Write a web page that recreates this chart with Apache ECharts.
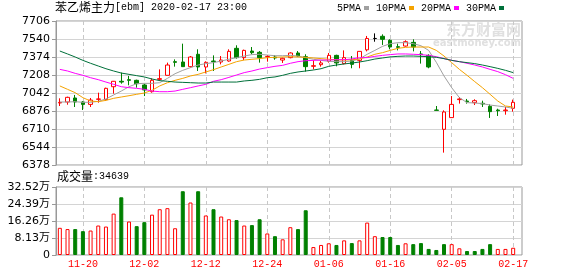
<!DOCTYPE html>
<html><head><meta charset="utf-8">
<script src="https://cdn.jsdelivr.net/npm/echarts@6/dist/echarts.min.js"></script>
<style>html,body{margin:0;padding:0;background:#fff}#c{width:578px;height:276px}</style>
</head><body><div id="c"></div>
<script>
// ---- data ----
const dates = ['11-15','11-18','11-19','11-20','11-21','11-22','11-25','11-26','11-27','11-28','11-29',
  '12-02','12-03','12-04','12-05','12-06','12-09','12-10','12-11','12-12','12-13','12-16','12-17','12-18','12-19','12-20','12-23','12-24','12-25','12-26','12-27','12-30','12-31',
  '01-02','01-03','01-06','01-07','01-08','01-09','01-10','01-13','01-14','01-15','01-16','01-17','01-20','01-21','01-22','01-23',
  '02-03','02-04','02-05','02-06','02-07','02-10','02-11','02-12','02-13','02-14','02-17'];
const opens  = [6950,6959,6996,6959,6937,6984,6981,7100,7150,7165,7159,7116,7054,7168,7205,7331,7328,7285,7399,7282,
  7337,7328,7337,7454,7368,7429,7417,7377,7374,7346,7368,7411,7377,7288,7303,7334,7389,7313,7343,7343,
  7440,7545,7565,7528,7469,7475,7509,7402,7389,6885,6707,6815,6981,6968,6953,6947,6919,6885,6879,6901];
const closes = [6955,7002,6959,6937,6977,6987,7085,7150,7143,7159,7128,7070,7159,7174,7300,7325,7285,7374,7282,7325,
  7331,7346,7426,7368,7435,7414,7368,7380,7365,7362,7411,7383,7285,7294,7319,7389,7319,7368,7306,7426,
  7545,7545,7537,7466,7463,7515,7466,7396,7282,6882,6867,6937,6987,6962,6971,6941,6870,6879,6885,6956];
const lows   = [6922,6934,6913,6885,6913,6953,6968,7036,7128,7113,7091,7014,7045,7153,7205,7285,7282,7276,7245,7223,
  7245,7306,7331,7359,7346,7399,7322,7331,7349,7319,7362,7374,7239,7260,7285,7322,7288,7306,7270,7270,
  7426,7515,7485,7445,7435,7469,7426,7313,7270,6882,6492,6815,6944,6944,6931,6913,6812,6830,6842,6870];
const highs  = [6993,7008,7024,6968,6996,7045,7091,7153,7230,7199,7165,7128,7177,7260,7322,7352,7497,7383,7445,7334,
  7389,7383,7445,7482,7442,7466,7429,7392,7392,7368,7417,7429,7399,7343,7337,7411,7395,7435,7383,7426,
  7568,7592,7583,7537,7497,7528,7537,7429,7399,6922,6882,7014,7005,6987,6984,6971,6937,6897,6913,6981];
const ma5  = [6959,6959,6962,6956,6956,6965,6987,7024,7060,7100,7128,7131,7131,7137,7177,7220,7251,7276,7300,7313,
  7322,7337,7353,7368,7383,7396,7399,7392,7386,7386,7389,7383,7368,7353,7343,7334,7331,7331,7337,7356,
  7399,7435,7472,7497,7506,7506,7497,7478,7435,7325,7199,7091,6999,6953,6950,6944,6931,6922,6913,6901];
const ma10 = [7107,7076,7045,6999,6968,6962,6974,6993,7005,7017,7030,7042,7067,7107,7137,7159,7177,7199,7214,7236,
  7257,7282,7306,7331,7346,7353,7359,7368,7371,7374,7377,7374,7371,7365,7359,7353,7349,7346,7349,7356,
  7374,7399,7414,7435,7454,7463,7466,7466,7466,7435,7383,7322,7260,7205,7147,7091,7030,6968,6922,6913];
const ma20 = [7260,7245,7223,7205,7183,7165,7143,7122,7100,7091,7085,7076,7060,7054,7054,7060,7076,7091,7107,7122,
  7150,7165,7186,7208,7230,7245,7263,7276,7288,7297,7316,7331,7340,7343,7346,7346,7349,7349,7356,7368,
  7368,7380,7389,7396,7402,7402,7399,7396,7389,7377,7359,7343,7331,7316,7300,7282,7260,7239,7211,7177];
const ma30 = [7429,7402,7374,7343,7316,7291,7266,7245,7226,7214,7202,7190,7171,7156,7150,7143,7140,7137,7134,7134,
  7143,7143,7143,7143,7153,7159,7168,7183,7190,7205,7223,7236,7245,7254,7266,7288,7300,7310,7318,7328,
  7340,7355,7365,7375,7380,7383,7383,7380,7377,7371,7359,7343,7331,7322,7313,7300,7285,7269,7251,7230];
const volumes = [130000,124000,124000,114000,117000,141000,136000,198000,276000,160000,138000,157000,193000,219000,224000,128000,305000,251000,305000,189000,
  219000,184000,171000,167000,141000,143000,171000,103000,90000,75000,133000,124000,214000,38000,48000,56000,48000,70000,57000,70000,
  155000,90000,86000,86000,48000,56000,52000,57000,29000,24000,52000,52000,32000,19000,19000,29000,52000,29000,29000,34639];
const volUp = [1,1,0,0,1,1,1,1,0,1,0,0,1,1,1,1,0,1,0,1,0,1,1,0,1,0,0,1,0,1,
  1,0,0,1,1,1,0,1,0,1,1,1,0,0,0,1,0,0,0,0,0,1,1,0,0,0,0,1,1,1];
const priceTicks = ['6378','6544','6710','6876','7042','7208','7374','7540','7706'];
const volTicks = ['0','8.13万','16.26万','24.39万','32.52万'];
const maNames = ['5PMA','10PMA','20PMA','30PMA'];
const titleMain = '苯乙烯主力';
const titleRest = '[ebm] 2020-02-17 23:00';
const volLabel = '成交量';
const volValue = ':34639';

// ---- styling ----
const RED = '#ff0000', GREEN = '#008000';
const maColors = ['#a0a0a0', '#f5a300', '#ff00ff', '#00703a'];
const GRID_C = '#d4d4d4', FRAME_C = '#999999';
const MONO = "'Liberation Mono','Noto Sans CJK SC',monospace";
const SANS = "'DejaVu Sans','Noto Sans CJK SC',sans-serif";
const isMark = (i) => i % 8 === 3;

const candleData = dates.map((d, i) => {
  const item = { value: [opens[i], closes[i], lows[i], highs[i]] };
  if (opens[i] === closes[i]) item.itemStyle = { color: '#000', borderColor: '#000' };
  return item;
});
const volData = volumes.map((v, i) => ({
  value: v,
  itemStyle: volUp[i] ? { color: '#fff', borderColor: RED, borderWidth: 1 }
                      : { color: GREEN, borderColor: GREEN, borderWidth: 1 }
}));
const maData = [ma5, ma10, ma20, ma30];

const hiddenVal = (g, min, max) => ({ gridIndex: g, type: 'value', min, max, show: false,
  axisLine: {show:false}, axisTick:{show:false}, axisLabel:{show:false}, splitLine:{show:false} });

const frameY = (g, n, labels) => ({
  gridIndex: g, type: 'value', min: 0, max: n, interval: 1,
  axisLine: { show: true, lineStyle: { color: FRAME_C } },
  axisTick: { show: true, length: 4, lineStyle: { color: FRAME_C } },
  axisLabel: { margin: 6, color: '#000', fontFamily: SANS, fontSize: 11, formatter: v => labels[v] },
  splitLine: { show: true, lineStyle: { color: GRID_C, width: 1 } }
});

const catX = (g, showLabels) => ({
  gridIndex: g, type: 'category', data: dates, boundaryGap: true,
  axisLine: { show: false }, axisTick: { show: false },
  axisLabel: showLabels ? { show: true, interval: (i) => isMark(i), color: RED, fontFamily: MONO, fontSize: 10, margin: 4 } : { show: false },
  splitLine: { show: true, interval: (i) => isMark(i), alignWithLabel: true, lineStyle: { color: '#c8c8c8', type: [4, 3], width: 1 } }
});

const option = {
  animation: false,
  backgroundColor: '#fff',
  title: {
    left: 55, top: 1, padding: 0,
    text: '{a|' + titleMain + '}{b|' + titleRest + '}',
    textStyle: { fontWeight: 'normal', rich: {
      a: { fontFamily: "'Noto Sans CJK SC'", fontSize: 12, fontWeight: 'normal', color: '#000' },
      b: { fontFamily: MONO, fontSize: 10, fontWeight: 'normal', color: '#000' } } }
  },
  legend: {
    data: maNames, left: 337, top: 3, padding: 0, itemGap: 7, itemWidth: 5, itemHeight: 4,
    icon: 'rect', align: 'right', selectedMode: false,
    textStyle: { fontFamily: MONO, fontSize: 10, fontWeight: 'normal', color: '#000', padding: [0, -2, 0, 0] }
  },
  graphic: [
    { type: 'text', right: 578 - 521, top: 22, silent: true, z: 0,
      style: { text: '东方财富网', fill: '#e0e0e0', font: "bold 15px 'Noto Sans CJK SC'" } },
    { type: 'text', right: 578 - 521, top: 38, silent: true, z: 0,
      style: { text: 'eastmoney.com', fill: '#e0e0e0', font: "bold 10px 'DejaVu Sans'" } },
    { type: 'text', left: 57, top: 170, silent: true,
      style: { text: '{a|' + volLabel + '}{b|' + volValue + '}', rich: {
        a: { fontFamily: "'Noto Sans CJK SC'", fontSize: 12, fontWeight: 'normal', fill: '#000' },
        b: { fontFamily: MONO, fontSize: 10, fontWeight: 'normal', fill: '#000' } } } }
  ],
  grid: [
    { left: 56, top: 21, width: 466, height: 144, show: true, borderColor: FRAME_C, borderWidth: 1, backgroundColor: 'transparent' },
    { left: 56, top: 21, width: 461, height: 144 },
    { left: 56, top: 187, width: 466, height: 68, show: true, borderColor: FRAME_C, borderWidth: 1, backgroundColor: 'transparent' },
    { left: 56, top: 187, width: 461, height: 68 }
  ],
  xAxis: [
    hiddenVal(0, 0, 1),
    catX(1, false),
    hiddenVal(2, 0, 1),
    catX(3, true)
  ],
  yAxis: [
    frameY(0, priceTicks.length - 1, priceTicks),
    hiddenVal(1, 6378, 7706),
    frameY(2, volTicks.length - 1, volTicks),
    hiddenVal(3, 0, 325200)
  ],
  series: [
    { type: 'candlestick', name: 'K', xAxisIndex: 1, yAxisIndex: 1, barWidth: 4, data: candleData,
      itemStyle: { color: '#fff', color0: GREEN, borderColor: RED, borderColor0: GREEN, borderColorDoji: '#000', borderWidth: 1 } },
    ...maNames.map((n, k) => ({
      type: 'line', name: n, xAxisIndex: 1, yAxisIndex: 1, data: maData[k], color: maColors[k],
      symbol: 'none', showSymbol: false, smooth: false, z: 3,
      lineStyle: { color: maColors[k], width: 1 }, itemStyle: { color: maColors[k] }
    })),
    { type: 'bar', name: 'VOL', xAxisIndex: 3, yAxisIndex: 3, barWidth: 4, data: volData }
  ]
};
const chart = echarts.init(document.getElementById('c'), null, { renderer: 'canvas' });
chart.setOption(option);
</script>
</body></html>
